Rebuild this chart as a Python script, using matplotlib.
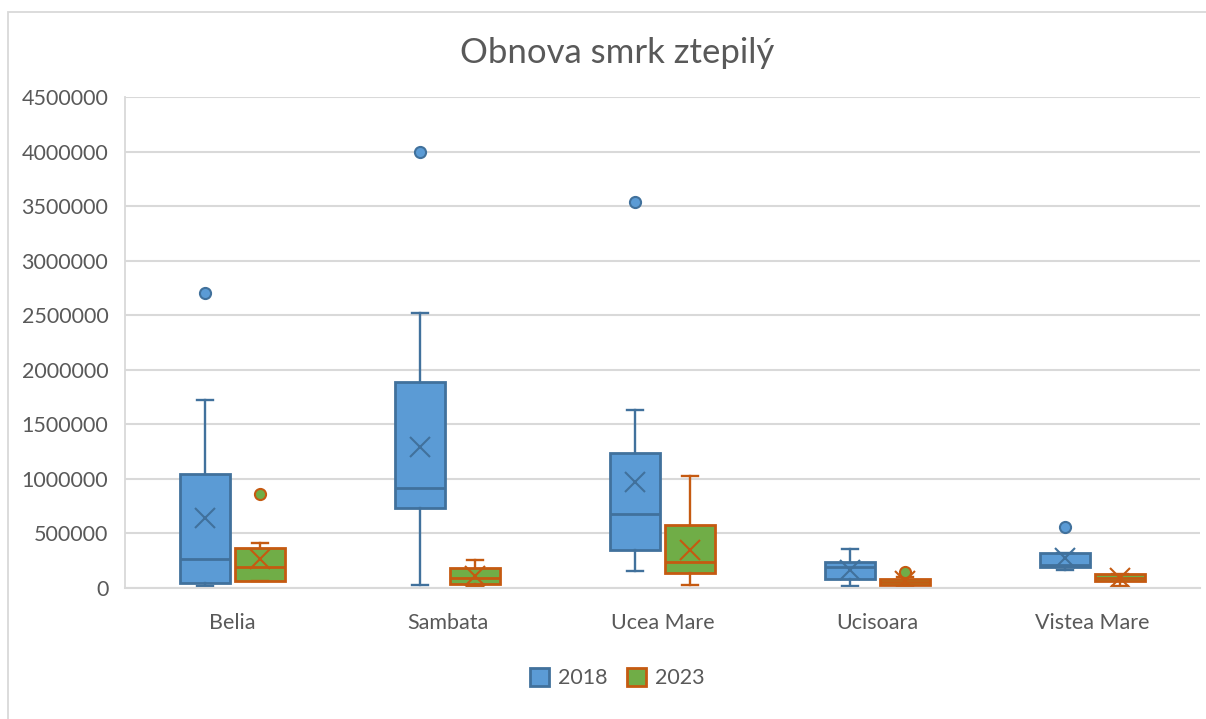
import matplotlib
matplotlib.use('Agg')
import matplotlib.pyplot as plt
from matplotlib.patches import Rectangle, Patch
import numpy as np

plt.rcParams['font.family'] = ['Lato', 'DejaVu Sans']

# data
categories = ['Belia', 'Sambata', 'Ucea Mare', 'Ucisoara', 'Vistea Mare']
years = ['2018', '2023']

whislo_2018 = [15000, 30000, 155000, 20000, 165000]
q1_2018 = [45000, 730000, 350000, 80000, 190000]
med_2018 = [266000, 915000, 680000, 190000, 210000]
q3_2018 = [1045000, 1890000, 1240000, 240000, 320000]
whishi_2018 = [1720000, 2520000, 1630000, 360000, 320000]
mean_2018 = [640000, 1290000, 970000, 165000, 275000]
fliers_2018 = [[2700000], [4000000], [3540000], [], [560000]]

whislo_2023 = [60000, 15000, 25000, 15000, 20000]
q1_2023 = [65000, 35000, 135000, 30000, 65000]
med_2023 = [190000, 90000, 240000, 55000, 95000]
q3_2023 = [365000, 180000, 575000, 80000, 125000]
whishi_2023 = [410000, 255000, 1030000, 100000, 130000]
mean_2023 = [265000, 110000, 350000, 65000, 95000]
fliers_2023 = [[860000], [], [], [145000], []]

yticks = np.arange(0, 4500001, 500000)

fill = {'2018': '#5B9BD5', '2023': '#70AD47'}
edge = {'2018': '#41719C', '2023': '#C55A11'}


def stats(lo, q1, med, q3, hi, mean, fl):
    out = []
    for i in range(len(lo)):
        out.append(dict(whislo=lo[i], q1=q1[i], med=med[i], q3=q3[i],
                        whishi=hi[i], mean=mean[i], fliers=fl[i]))
    return out


series = {
    '2018': stats(whislo_2018, q1_2018, med_2018, q3_2018, whishi_2018, mean_2018, fliers_2018),
    '2023': stats(whislo_2023, q1_2023, med_2023, q3_2023, whishi_2023, mean_2023, fliers_2023),
}

fig = plt.figure(figsize=(12.06, 7.19), dpi=100)
# chart border
fig.patches.append(Rectangle((8 / 1206, -0.1), 1.2, (719 - 12) / 719 + 0.1,
                             transform=fig.transFigure, fill=False,
                             edgecolor='#D9D9D9', linewidth=1.3))

ax = fig.add_axes([125 / 1206, 1 - 588 / 719, 1075 / 1206, (588 - 97) / 719])

x = np.arange(len(categories))
offsets = {'2018': -0.128, '2023': 0.128}
for yr in years:
    c, e = fill[yr], edge[yr]
    ax.bxp(series[yr], positions=x + offsets[yr], widths=0.233,
           showmeans=True, patch_artist=True, manage_ticks=False,
           boxprops=dict(facecolor=c, edgecolor=e, linewidth=2),
           medianprops=dict(color=e, linewidth=2),
           whiskerprops=dict(color=e, linewidth=1.7),
           capprops=dict(color=e, linewidth=1.7),
           capwidths=0.07,
           meanprops=dict(marker='x', markeredgecolor=e, markersize=14,
                          markeredgewidth=1.5),
           flierprops=dict(marker='o', markerfacecolor=c, markeredgecolor=e,
                           markersize=8, markeredgewidth=1.5))

ax.set_xlim(-0.5, len(categories) - 0.5)
ax.set_ylim(0, 4500000)
ax.set_yticks(yticks)
ax.set_yticklabels([str(v) for v in yticks])
ax.set_xticks(x)
ax.set_xticklabels(categories)
ax.tick_params(axis='both', length=0, labelsize=15.5, colors='#595959')
ax.tick_params(axis='x', pad=18)
ax.tick_params(axis='y', pad=12)
ax.grid(axis='y', color='#D9D9D9', linewidth=1.5)
ax.set_axisbelow(True)
for s in ['top', 'right']:
    ax.spines[s].set_visible(False)
ax.spines['left'].set_color('#D9D9D9')
ax.spines['bottom'].set_color('#D9D9D9')
ax.spines['left'].set_linewidth(1.3)
ax.spines['bottom'].set_linewidth(1.5)

fig.text(617 / 1206, 1 - 53 / 719, 'Obnova smrk ztepilý', ha='center',
         va='center', fontsize=25, color='#595959')

handles = [Patch(facecolor=fill[yr], edgecolor=edge[yr], linewidth=2) for yr in years]
fig.legend(handles, years, loc='center', bbox_to_anchor=(617 / 1206, 1 - 678 / 719),
           ncol=2, frameon=False, fontsize=15.5, labelcolor='#595959',
           handlelength=0.9, handleheight=0.9, columnspacing=0.9, handletextpad=0.4)

fig.savefig('out.png', dpi=100)
